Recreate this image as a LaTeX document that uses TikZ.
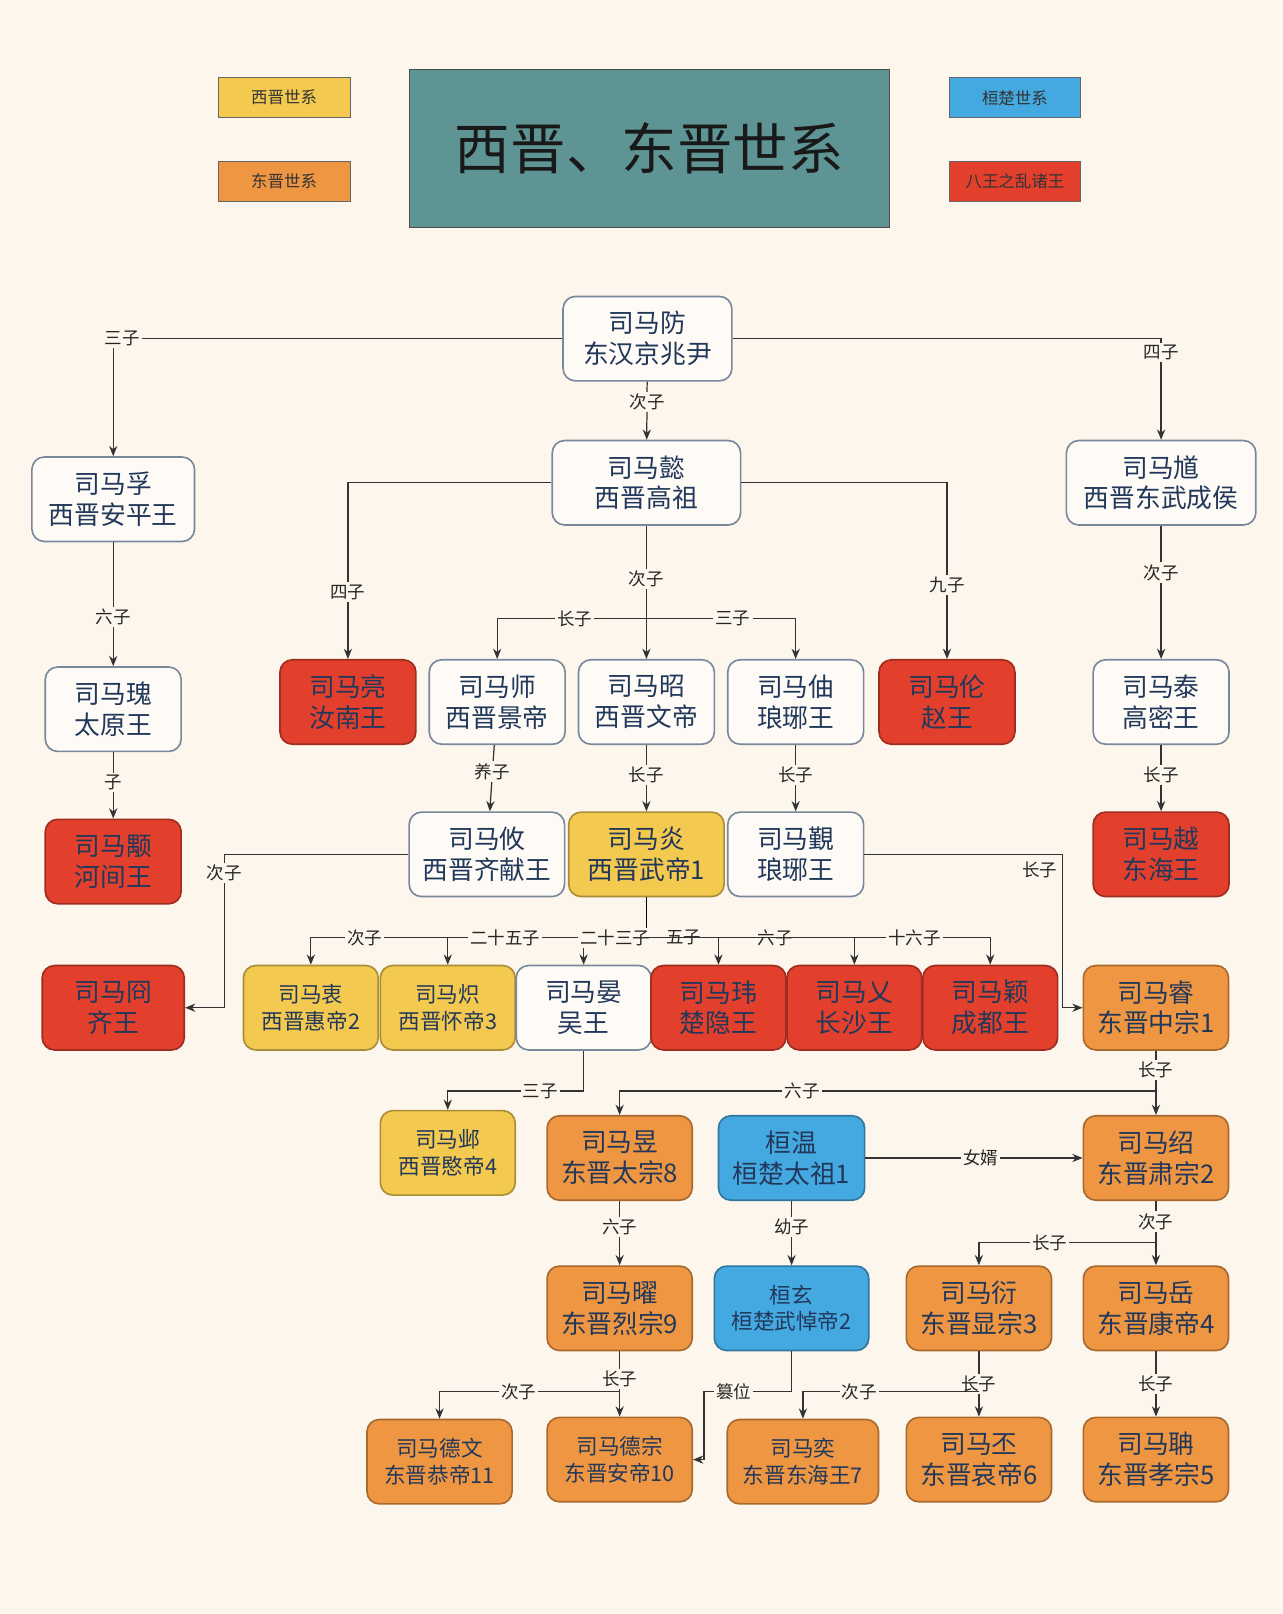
\documentclass[tikz,border=0pt]{standalone}
\usepackage{fontspec}
\setmainfont{Noto Sans CJK SC}
\usetikzlibrary{arrows.meta}
\definecolor{bg}{HTML}{FDF6EC}
\definecolor{navy}{HTML}{22385A}
\definecolor{xjin}{HTML}{F3C94F}
\definecolor{djin}{HTML}{EF9642}
\definecolor{hchu}{HTML}{45A9E1}
\definecolor{bawang}{HTML}{E2402D}
\definecolor{teal}{HTML}{5E9494}
\tikzset{
  box/.style={rounded corners=6pt, align=center, text=navy, font=\fontsize{12.5}{15}\selectfont,
    minimum width=66pt, minimum height=41pt, inner sep=1pt, line width=0.8pt},
  wbox/.style={box, draw=navy!60, fill=white!60!bg},
  ybox/.style={box, draw=xjin!70!black, fill=xjin},
  obox/.style={box, draw=djin!70!black, fill=djin},
  bbox/.style={box, draw=hchu!70!black, fill=hchu},
  rbox/.style={box, draw=bawang!70!black, fill=bawang},
  small/.style={font=\fontsize{10.5}{13}\selectfont},
  legend/.style={draw=black!60, minimum width=64pt, minimum height=19.5pt, inner sep=1pt,
    font=\fontsize{8}{9}\selectfont, text=black!80},
  arr/.style={-{Stealth[length=5pt,width=4pt]}, draw=black!80, line width=0.6pt},
  lbl/.style={fill=bg, inner sep=1pt, font=\fontsize{8.5}{9}\selectfont, text=black!85},
}
\begin{document}
\begin{tikzpicture}[x=0.5pt, y=-0.5pt]
  \fill[bg] (0,0) rectangle (1246,1568);
  \useasboundingbox (0,0) rectangle (1246,1568);

  % legend and title
  \node[legend, fill=xjin] (lgx) at (276,95) {西晋世系};
  \node[legend, fill=djin] (lgd) at (276,176) {东晋世系};
  \node[legend, fill=hchu] (lgh) at (986,95) {桓楚世系};
  \node[legend, fill=bawang] (lgb) at (986,176) {八王之乱诸王};
  \node[draw=black!70, fill=teal, minimum width=233.5pt, minimum height=77pt,
    font=\fontsize{27}{30}\selectfont, text=black!90] (title) at (631,144) {西晋、东晋世系};

  % generations
  \node[wbox, minimum width=82pt] (fang) at (629,329) {司马防\\东汉京兆尹};
  \node[wbox, minimum width=79pt] (fu) at (110,485) {司马孚\\西晋安平王};
  \node[wbox, minimum width=91.5pt] (yi) at (628,469) {司马懿\\西晋高祖};
  \node[wbox, minimum width=92pt] (kui) at (1128,469) {司马馗\\西晋东武成侯};

  \node[wbox] (gui) at (110,689) {司马瑰\\太原王};
  \node[rbox] (liang) at (338,682) {司马亮\\汝南王};
  \node[wbox] (shi) at (483,682) {司马师\\西晋景帝};
  \node[wbox] (zhao) at (628,682) {司马昭\\西晋文帝};
  \node[wbox] (zhou) at (773,682) {司马伷\\琅琊王};
  \node[rbox] (lun) at (920,682) {司马伦\\赵王};
  \node[wbox] (tai) at (1128,682) {司马泰\\高密王};

  \node[rbox] (yong) at (110,837) {司马颙\\河间王};
  \node[wbox, minimum width=75.5pt] (you) at (473,830) {司马攸\\西晋齐献王};
  \node[ybox, minimum width=75.5pt] (yan) at (628,830) {司马炎\\西晋武帝1};
  \node[wbox] (jin) at (773,830) {司马覲\\琅琊王};
  \node[rbox] (yueh) at (1128,830) {司马越\\东海王};

  \node[rbox, minimum width=69pt] (jiong) at (110,979) {司马冏\\齐王};
  \node[ybox, small, minimum width=65.5pt] (zhong) at (302,979) {司马衷\\西晋惠帝2};
  \node[ybox, small, minimum width=65.5pt] (chi) at (435,979) {司马炽\\西晋怀帝3};
  \node[wbox, minimum width=65.5pt] (yanw) at (567,979) {司马晏\\吴王};
  \node[rbox, minimum width=65.5pt] (wei) at (698,979) {司马玮\\楚隐王};
  \node[rbox, minimum width=65.5pt] (ai) at (830,979) {司马乂\\长沙王};
  \node[rbox, minimum width=65.5pt] (ying) at (962,979) {司马颖\\成都王};
  \node[obox, minimum width=70.5pt] (rui) at (1123,979) {司马睿\\东晋中宗1};

  \node[ybox, small, minimum width=65.5pt] (ye) at (435,1120) {司马邺\\西晋愍帝4};
  \node[obox, minimum width=70.5pt] (yu) at (602,1125) {司马昱\\东晋太宗8};
  \node[bbox, minimum width=71pt] (wen) at (769,1125) {桓温\\桓楚太祖1};
  \node[obox, minimum width=70.5pt] (shao) at (1123,1125) {司马绍\\东晋肃宗2};

  \node[obox, minimum width=70.5pt] (yao) at (602,1271) {司马曜\\东晋烈宗9};
  \node[bbox, small, minimum width=75pt] (xuan) at (769,1271) {桓玄\\桓楚武悼帝2};
  \node[obox, minimum width=70.5pt] (yanx) at (951,1271) {司马衍\\东晋显宗3};
  \node[obox, minimum width=70.5pt] (yue) at (1123,1271) {司马岳\\东晋康帝4};

  \node[obox, small, minimum width=70.5pt] (dewen) at (427,1420) {司马德文\\东晋恭帝11};
  \node[obox, small, minimum width=70.5pt] (dezong) at (602,1418) {司马德宗\\东晋安帝10};
  \node[obox, small, minimum width=73.5pt] (yiz) at (780,1420) {司马奕\\东晋东海王7};
  \node[obox, minimum width=70.5pt] (pi) at (951,1418) {司马丕\\东晋哀帝6};
  \node[obox, minimum width=70.5pt] (dan) at (1123,1418) {司马聃\\东晋孝宗5};

  % bus points
  \coordinate (b1) at (628,601);
  \coordinate (b2) at (628,911);
  \coordinate (b3) at (567,1060);
  \coordinate (b4) at (1123,1060);
  \coordinate (b5) at (1123,1207);
  \coordinate (b6) at (602,1352);
  \coordinate (b7) at (951,1352);
  \coordinate (c1) at (218,830);
  \coordinate (c2) at (1032,830);
  \coordinate (c3) at (684,1352);
  \coordinate (c4) at (684,1418);

  % connectors
  \draw[arr] (fang.west) -| node[lbl, pos=0.49]{三子} (fu.north);
  \draw[arr] (fang.east) -| node[lbl, pos=0.57]{四子} (kui.north);
  \draw[arr] (fang) -- node[lbl, pos=0.35]{次子} (yi);
  \draw[arr] (fu) -- node[lbl, pos=0.6]{六子} (gui);
  \draw[arr] (gui) -- node[lbl, pos=0.45]{子} (yong);
  \draw[arr] (yi.west) -| node[lbl, pos=0.81]{四子} (liang.north);
  \draw[arr] (yi.east) -| node[lbl, pos=0.79]{九子} (lun.north);
  \draw[arr] (yi) -- node[lbl, pos=0.4]{次子} (zhao);
  \draw[arr] (b1) -| node[lbl, pos=0.24]{长子} (shi.north);
  \draw[arr] (b1) -| node[lbl, pos=0.29]{三子} (zhou.north);
  \draw[arr] (kui) -- node[lbl, pos=0.35]{次子} (tai);
  \draw[arr] (tai) -- node[lbl, pos=0.45]{长子} (yueh);
  \draw[arr] (shi) -- node[lbl, pos=0.4]{养子} (you);
  \draw[arr] (zhao) -- node[lbl, pos=0.45]{长子} (yan);
  \draw[arr] (zhou) -- node[lbl, pos=0.45]{长子} (jin);
  \draw[arr] (you.west) -- (c1) |- node[lbl, pos=0.06]{次子} (jiong.east);
  \draw[arr] (jin.east) -- (c2) |- node[lbl, pos=0.05, xshift=-11pt]{长子} (rui.west);
  \draw (yan.south) -- (b2);
  \draw[arr] (b2) -| node[lbl, pos=0.42]{次子} (zhong.north);
  \draw[arr] (b2) -| node[lbl, pos=0.355]{二十五子} (chi.north);
  \draw[arr] (b2) -| node[lbl, pos=0.25]{二十三子} (yanw.north);
  \draw[arr] (b2) -| node[lbl, pos=0.26]{五子} (wei.north);
  \draw[arr] (b2) -| node[lbl, pos=0.31]{六子} (ai.north);
  \draw[arr] (b2) -| node[lbl, pos=0.39]{十六子} (ying.north);
  \draw[arr] (yanw.south) -- (b3) -| node[lbl, pos=0.16]{三子} (ye.north);
  \draw[arr] (rui) -- node[lbl, pos=0.3]{长子} (shao);
  \draw[arr] (b4) -| node[lbl, pos=0.33]{六子} (yu.north);
  \draw[arr] (wen) -- node[lbl, pos=0.53]{女婿} (shao);
  \draw[arr] (yu) -- node[lbl, pos=0.4]{六子} (yao);
  \draw[arr] (wen) -- node[lbl, pos=0.4]{幼子} (xuan);
  \draw[arr] (shao) -- node[lbl, pos=0.32]{次子} (yue);
  \draw[arr] (b5) -| node[lbl, pos=0.3]{长子} (yanx.north);
  \draw[arr] (yao) -- node[lbl, pos=0.42]{长子} (dezong);
  \draw[arr] (b6) -| node[lbl, pos=0.28]{次子} (dewen.north);
  \draw[arr] (xuan.south) |- node[lbl, pos=0.83]{篡位} (c3) -- (c4) -- (dezong.east);
  \draw[arr] (yanx) -- node[lbl, pos=0.5]{长子} (pi);
  \draw[arr] (b7) -| node[lbl, pos=0.34]{次子} (yiz.north);
  \draw[arr] (yue) -- node[lbl, pos=0.5]{长子} (dan);
\end{tikzpicture}
\end{document}
